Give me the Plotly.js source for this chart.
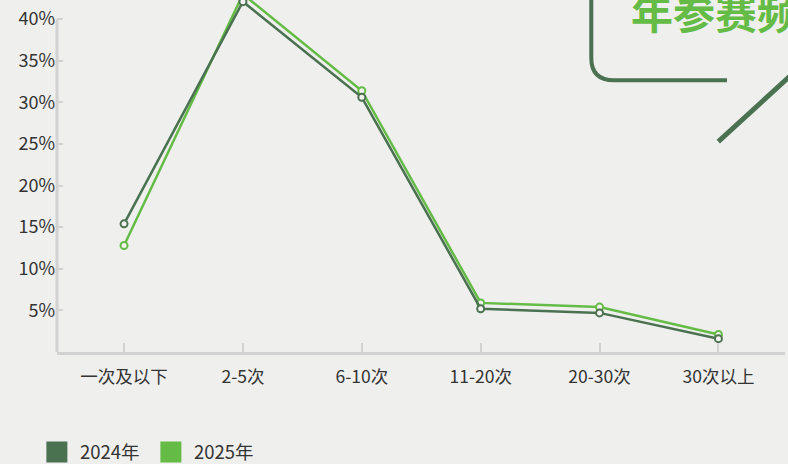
<!DOCTYPE html>
<html>
<head>
<meta charset="utf-8">
<script src="https://cdn.plot.ly/plotly-3.0.1.min.js"></script>
<style>
  html, body { margin: 0; padding: 0; background: #efefee; }
  #chart { width: 788px; height: 464px; }
</style>
</head>
<body>
<div id="chart"></div>
<script>
const categories = ['一次及以下', '2-5次', '6-10次', '11-20次', '20-30次', '30次以上'];
const series2024 = [15.4, 42.1, 30.6, 5.2, 4.7, 1.6];
const series2025 = [12.8, 43.0, 31.4, 5.9, 5.4, 2.1];
const seriesNames = ['2024年', '2025年'];
const yTickVals = [5, 10, 15, 20, 25, 30, 35, 40];
const yTickText = ['5%', '10%', '15%', '20%', '25%', '30%', '35%', '40%'];
const titleFragment = '年参赛频';

const dark = '#4a7150';
const light = '#64bc46';
const axisGray = '#d2d2d2';
const font = '"Noto Sans CJK SC", "Noto Sans", sans-serif';

function lineTrace(name, vals, color) {
  return {
    type: 'scatter', mode: 'lines+markers', name: name,
    x: categories, y: vals, showlegend: false,
    line: { color: color, width: 2.5 },
    marker: { symbol: 'circle', size: 7, color: '#f2f2f0', line: { color: color, width: 2 } },
    cliponaxis: false,
    hoverinfo: 'skip'
  };
}
function legendTrace(name, color) {
  return {
    type: 'scatter', mode: 'markers', name: name,
    x: [null], y: [null], showlegend: true,
    marker: { symbol: 'square', size: 16, color: color, line: { color: color, width: 5 } }
  };
}

const data = [
  lineTrace(seriesNames[1], series2025, light),
  lineTrace(seriesNames[0], series2024, dark),
  legendTrace(seriesNames[0], dark),
  legendTrace(seriesNames[1], light)
];

const H = 352.3, W = 728;
const px = v => (v - 57) / W;
const py = v => (H - v) / H;

const layout = {
  width: 788, height: 464,
  margin: { l: 57, r: 3, t: 0, b: 112, pad: 0, autoexpand: false },
  paper_bgcolor: 'rgba(0,0,0,0)',
  plot_bgcolor: 'rgba(0,0,0,0)',
  font: { family: font, color: '#333333', size: 16 },
  xaxis: {
    type: 'category', range: [-0.564, 5.56],
    showgrid: false, zeroline: false,
    showline: true, linecolor: axisGray, linewidth: 3,
    ticks: 'inside', ticklen: 9, tickwidth: 2, tickcolor: axisGray,
    tickfont: { size: 17.5, color: '#333333', family: font },
    ticklabelstandoff: 7, automargin: false
  },
  yaxis: {
    range: [0, 42.3],
    showgrid: false, zeroline: false, showline: false,
    tickvals: yTickVals, ticktext: yTickText,
    ticks: 'inside', ticklen: 6, tickwidth: 2, tickcolor: axisGray,
    tickfont: { size: 18, color: '#333333', family: font },
    ticklabelstandoff: 1,
    automargin: false
  },
  showlegend: true,
  legend: {
    orientation: 'h', xref: 'container', yref: 'container',
    x: 0.043, xanchor: 'left', y: 0.066, yanchor: 'top',
    font: { size: 18.5, color: '#333333', family: font },
    bgcolor: 'rgba(0,0,0,0)', itemwidth: 36, traceorder: 'normal',
    entrywidth: 63, entrywidthmode: 'pixels'
  },
  shapes: [
    { type: 'line', layer: 'below', xref: 'paper', yref: 'y', x0: 0, x1: 0, y0: 0, y1: 40,
      line: { color: axisGray, width: 3 } },
    { type: 'path', xref: 'paper', yref: 'paper',
      path: `M ${px(591.3)},${py(-6)} L ${px(591.3)},${py(58)} Q ${px(591.3)},${py(80.3)} ${px(614)},${py(80.3)} L ${px(727)},${py(80.3)}`,
      line: { color: dark, width: 4 } },
    { type: 'line', xref: 'paper', yref: 'paper',
      x0: px(718.3), y0: py(141.7), x1: px(795), y1: py(71.6),
      line: { color: dark, width: 5 } }
  ],
  annotations: [
    { text: '<b>' + titleFragment + '</b>', xref: 'paper', yref: 'paper',
      x: px(629), y: py(11), xanchor: 'left', yanchor: 'middle', showarrow: false,
      font: { size: 42, color: light, family: font } }
  ]
};

Plotly.newPlot('chart', data, layout, { displayModeBar: false, staticPlot: true });
</script>
</body>
</html>
